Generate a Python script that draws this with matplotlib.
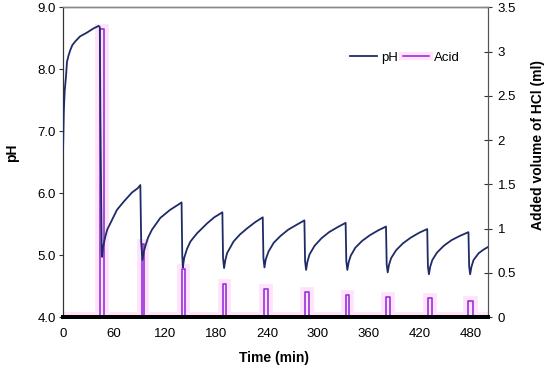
import matplotlib
matplotlib.use("Agg")
import matplotlib.pyplot as plt
from matplotlib.lines import Line2D

plt.rcParams['font.family'] = ['Liberation Sans', 'DejaVu Sans']

# pH time series (min, pH)
time_ph = [0, 1, 2, 3.5, 4.7, 6.5, 8.6, 11, 14.5, 20, 28, 36, 42, 43.3,
           44, 45.5, 46, 47, 49.8, 52, 55.6, 63.5, 71.3, 81.2, 88, 91,
           92, 93.5, 95, 96.8, 100, 104.7, 114.5, 126, 134, 139.5,
           140.3, 141, 142.5, 145.9, 150, 157.6, 169.4, 178, 187.5,
           188.3, 189.5, 191, 193, 200.7, 208, 216.5, 226, 235,
           235.8, 237, 238.5, 241.9, 248, 256, 265, 275, 284,
           284.8, 286, 287.5, 290, 296, 304, 313, 323, 332.5,
           333.3, 334.5, 336, 338.5, 344, 352, 361, 371, 380,
           380.8, 382, 383.5, 386, 392, 400, 409, 419, 428.5,
           429.3, 430.5, 432, 434.5, 440, 448, 457, 467, 477,
           477.8, 479, 480.5, 483, 489, 495, 500]
ph_values = [6.65, 7.34, 7.65, 7.88, 8.12, 8.22, 8.31, 8.39, 8.45, 8.53, 8.59, 8.66, 8.70, 8.68,
             7.2, 5.10, 4.97, 5.12, 5.30, 5.41, 5.51, 5.73, 5.86, 6.01, 6.08, 6.13,
             5.20, 4.92, 5.05, 5.14, 5.28, 5.41, 5.60, 5.73, 5.80, 5.85,
             5.00, 4.80, 4.95, 5.10, 5.22, 5.35, 5.51, 5.61, 5.69,
             4.95, 4.79, 4.92, 5.03, 5.22, 5.33, 5.43, 5.53, 5.61,
             4.95, 4.80, 4.93, 5.06, 5.20, 5.31, 5.41, 5.49, 5.56,
             4.90, 4.76, 4.89, 5.01, 5.15, 5.27, 5.37, 5.45, 5.52,
             4.90, 4.76, 4.88, 4.99, 5.12, 5.23, 5.32, 5.40, 5.46,
             4.85, 4.72, 4.84, 4.95, 5.08, 5.19, 5.28, 5.36, 5.42,
             4.82, 4.69, 4.81, 4.92, 5.04, 5.15, 5.24, 5.31, 5.37,
             4.82, 4.69, 4.81, 4.92, 5.03, 5.09, 5.13]

# Acid additions (rectangular pulses): start, end (min), volume (ml)
acid_start = [43.5, 92.5, 140.0, 187.8, 236.5, 284.7, 332.5, 380.0, 429.0, 477.0]
acid_end = [48.5, 95.7, 144.0, 191.8, 240.7, 289.0, 336.5, 384.7, 433.6, 482.0]
acid_volume = [3.25, 0.82, 0.54, 0.37, 0.32, 0.28, 0.25, 0.23, 0.21, 0.18]

x_ticks = [0, 60, 120, 180, 240, 300, 360, 420, 480]
ph_ticks = [4.0, 5.0, 6.0, 7.0, 8.0, 9.0]
acid_ticks = [0, 0.5, 1, 1.5, 2, 2.5, 3, 3.5]
acid_tick_labels = ['0', '0.5', '1', '1.5', '2', '2.5', '3', '3.5']

# build step line for acid
acid_t = [0]
acid_v = [0]
for s, e, v in zip(acid_start, acid_end, acid_volume):
    acid_t += [s, s, e, e]
    acid_v += [0, v, v, 0]
acid_t.append(500)
acid_v.append(0)

PH_COLOR = '#1f2b66'
ACID_COLOR = '#9b30d9'
HALO = '#ffe2fb'

fig = plt.figure(figsize=(5.5, 3.69), dpi=100)
ax = fig.add_axes([63/550, 1-317/369, (488-63)/550, (317-7.3)/369])
ax2 = ax.twinx()

ax2.plot(acid_t, acid_v, color=HALO, lw=7, solid_joinstyle='miter', zorder=1)
ax2.plot(acid_t, acid_v, color=ACID_COLOR, lw=1.2, zorder=2)
ax.plot(time_ph, ph_values, color=PH_COLOR, lw=1.3, zorder=3)

ax.set_zorder(ax2.get_zorder() + 1)
ax.patch.set_visible(False)

ax.set_xlim(0, 500)
ax.set_ylim(4.0, 9.0)
ax2.set_ylim(0, 3.5)
ax.set_xticks(x_ticks)
ax.set_yticks(ph_ticks)
ax.set_yticklabels([f"{v:.1f}" for v in ph_ticks])
ax2.set_yticks(acid_ticks)
ax2.set_yticklabels(acid_tick_labels)

fs = 9.5
ax.tick_params(axis='both', labelsize=fs, length=3, width=0.8, color='#333333', pad=2)
ax.tick_params(axis='x', length=0, pad=8)
ax2.tick_params(axis='y', labelsize=fs, direction='inout', length=6, width=0.8, color='#333333', pad=4)

ax.set_xlabel('Time (min)', fontsize=10, fontweight='bold')
ax.set_ylabel('pH', fontsize=10, fontweight='bold')
ax2.set_ylabel('Added volume of HCl (ml)', fontsize=10, fontweight='bold')
ax.xaxis.set_label_coords(0.4976, -0.11)
ax.yaxis.set_label_coords(-0.103, 0.53)
ax2.yaxis.set_label_coords(1.101, 0.554)

for a in (ax, ax2):
    a.spines['bottom'].set_linewidth(2.8)
    a.spines['bottom'].set_color('black')
    a.spines['top'].set_color('#888888')
    a.spines['top'].set_linewidth(1.0)
    a.spines['left'].set_color('#333333')
    a.spines['right'].set_color('#555555')

h_ph = Line2D([], [], color=PH_COLOR, lw=1.3)
h_acid = (Line2D([], [], color=HALO, lw=6), Line2D([], [], color=ACID_COLOR, lw=1.2))
ax.legend([h_ph, h_acid], ['pH', 'Acid'], loc='center', bbox_to_anchor=(0.805, 0.837),
          ncol=2, frameon=False, fontsize=fs, handlelength=2.0, handletextpad=0.35,
          columnspacing=0.35)

fig.savefig('out.png', dpi=100)
